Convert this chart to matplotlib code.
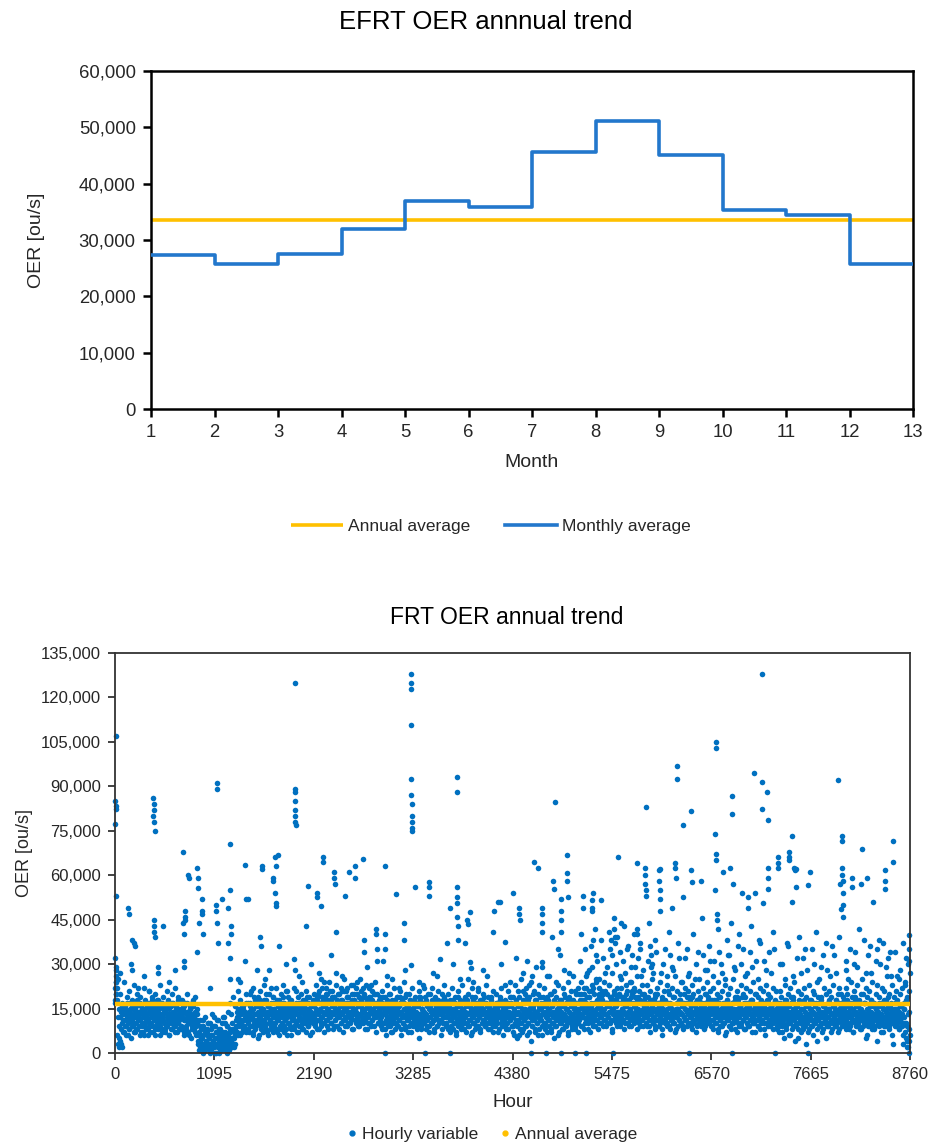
import numpy as np
import matplotlib.pyplot as plt
from matplotlib.lines import Line2D
from matplotlib.ticker import FuncFormatter

plt.rcParams['font.family'] = ['Liberation Sans', 'DejaVu Sans']

# ---- top chart: monthly averages (ou/s) ----
months = [1, 2, 3, 4, 5, 6, 7, 8, 9, 10, 11, 12, 13]
monthly_avg = [27400, 25700, 27600, 31900, 37000, 35800, 45700, 51100, 45000, 35400, 34500, 25700, 25700]
efrt_annual_avg = 33600

# ---- bottom chart: hourly values, thousands of ou/s, read month by month ----
band_m01 = [22, 28, 18, 12, 25, 9, 4, 14, 3, 2, 11, 7, 15, 9, 13, 6, 17, 10, 8, 14, 12, 5, 16, 11, 9, 13, 7, 15, 10, 18,
            8, 12, 14, 6, 11, 16, 9, 13, 7, 10, 15, 12, 8, 17, 11, 6, 14, 9, 13, 10, 16, 7, 12, 15, 8, 11, 14, 9, 18, 10,
            6, 13, 16, 8, 12, 11, 15, 7, 14, 9, 17, 10, 13, 6, 12, 16, 8, 11, 14, 9, 13, 7, 15, 10, 12, 18, 8, 11, 14, 9]
band_m02 = [12, 8, 15, 6, 11, 17, 9, 13, 7, 14, 10, 16, 5, 12, 9, 18, 8, 11, 14, 6, 13, 10,
            4, 7, 2, 9, 5, 3, 11, 6, 1, 8, 4, 2, 7, 10, 3, 5, 1, 6, 9, 2, 4, 12, 3, 7, 0, 5, 2, 8, 4, 1,
            6, 3, 10, 2, 5, 7, 1, 4, 9, 3, 6, 2, 8, 4, 13, 5, 3, 7, 2, 6,
            9, 12, 7, 15, 10, 13, 6, 11, 16, 8, 14, 9, 12, 17, 7, 11]
band_m03 = [10, 14, 7, 17, 12, 9, 15, 6, 11, 19, 8, 13, 16, 10, 5, 14, 12, 18, 9, 11, 7, 15, 13, 10, 20, 8, 12, 16, 6, 14,
            11, 9, 17, 13, 7, 10, 15, 12, 8, 18, 11, 14, 6, 13, 9, 16, 10, 12, 19, 7, 14, 11, 8, 15, 13, 10, 17, 9, 12, 6,
            14, 16, 11, 8, 13, 21, 10, 15, 7, 12, 9, 17, 14, 11, 8, 16, 13, 10, 18, 7, 12, 15, 9, 14, 11, 6, 13, 17, 10, 12]
band_m04 = [13, 9, 18, 15, 11, 20, 8, 14, 17, 10, 12, 22, 16, 7, 13, 19, 11, 15, 9, 18, 14, 12, 21, 10, 16, 8, 13, 19, 15, 11,
            17, 9, 14, 20, 12, 16, 10, 18, 13, 7, 15, 21, 11, 17, 14, 9, 19, 12, 16, 10, 13, 18, 8, 15, 20, 11, 14, 17, 12, 9,
            16, 19, 13, 10, 18, 15, 11, 22, 14, 8, 17, 12, 16, 10, 19, 13, 15, 9, 18, 11, 14, 20, 12, 16, 7, 13, 17, 10, 15, 19]
band_m05 = [11, 16, 8, 13, 19, 10, 14, 6, 17, 12, 9, 15, 20, 11, 7, 14, 18, 10, 13, 16, 8, 12, 19, 15, 9, 11, 17, 14, 6, 13,
            18, 10, 15, 12, 8, 20, 14, 11, 16, 9, 13, 17, 7, 12, 15, 10, 18, 14, 9, 11, 16, 13, 5, 19, 12, 8, 15, 17, 10, 14,
            11, 13, 18, 9, 16, 12, 7, 15, 20, 10, 14, 11, 17, 8, 13, 16, 12, 9, 18, 15, 11, 14, 6, 13, 17, 10, 19, 12, 15, 9]
band_m06 = [12, 9, 16, 14, 7, 18, 11, 13, 15, 8, 10, 17, 12, 6, 14, 19, 9, 13, 16, 11, 8, 15, 12, 18, 10, 14, 7, 13, 17, 9,
            11, 16, 14, 6, 12, 19, 10, 15, 13, 8, 17, 11, 14, 9, 12, 16, 7, 13, 18, 10, 15, 11, 9, 14, 17, 12, 8, 16, 13, 10,
            19, 11, 14, 7, 15, 12, 9, 17, 13, 10, 16, 8, 12, 18, 14, 11, 6, 15, 13, 9, 17, 10, 12, 16, 8, 14, 11, 19, 13, 9]
band_m07 = [9, 14, 6, 17, 11, 13, 5, 16, 10, 19, 8, 12, 15, 7, 21, 11, 14, 9, 13, 6, 18, 10, 15, 12, 4, 16, 9, 13, 20, 11,
            7, 14, 17, 10, 12, 8, 15, 19, 11, 6, 13, 16, 9, 14, 10, 18, 12, 7, 15, 11, 13, 20, 8, 16, 10, 14, 5, 12, 17, 9,
            13, 11, 15, 7, 18, 10, 14, 12, 8, 16, 13, 19, 9, 11, 15, 6, 14, 12, 17, 10, 13, 8, 16, 11, 21, 9, 14, 12, 7, 15]
band_m08 = [13, 17, 9, 20, 12, 15, 8, 18, 14, 11, 22, 16, 10, 13, 19, 7, 15, 12, 21, 9, 17, 14, 11, 24, 13, 16, 8, 19, 12, 15,
            10, 18, 14, 20, 11, 13, 17, 9, 16, 12, 23, 14, 10, 18, 15, 7, 13, 20, 11, 16, 12, 19, 9, 14, 17, 13, 10, 22, 15, 11,
            18, 8, 16, 13, 20, 12, 14, 10, 17, 15, 9, 19, 13, 11, 16, 21, 12, 14, 8, 18, 15, 10, 13, 17, 11, 20, 14, 9, 16, 12]
band_m09 = [12, 16, 9, 14, 19, 11, 7, 15, 13, 18, 10, 12, 17, 8, 14, 11, 20, 13, 9, 16, 12, 15, 6, 18, 11, 14, 10, 17, 13, 9,
            15, 21, 12, 8, 16, 11, 14, 19, 10, 13, 7, 15, 12, 17, 9, 14, 11, 18, 13, 10, 16, 8, 12, 20, 15, 11, 14, 9, 17, 13,
            10, 15, 12, 19, 8, 14, 11, 16, 13, 7, 18, 12, 15, 10, 14, 9, 17, 11, 13, 16, 8, 12, 20, 14, 10, 15, 11, 13, 18, 9]
band_m10 = [11, 15, 8, 18, 13, 10, 16, 12, 7, 14, 19, 11, 9, 15, 13, 17, 10, 12, 6, 16, 14, 11, 20, 9, 13, 15, 8, 12, 17, 10,
            14, 11, 18, 13, 7, 15, 12, 9, 16, 14, 10, 19, 11, 13, 8, 15, 12, 17, 10, 14, 9, 16, 13, 11, 18, 7, 12, 15, 10, 14,
            20, 11, 13, 9, 16, 12, 8, 15, 11, 17, 13, 10, 14, 6, 12, 18, 15, 9, 13, 11, 16, 10, 14, 12, 8, 17, 13, 11, 15, 9]
band_m11 = [10, 14, 7, 17, 12, 9, 15, 11, 5, 13, 18, 8, 12, 16, 10, 14, 6, 11, 19, 13, 9, 15, 12, 4, 16, 10, 14, 8, 13, 17,
            11, 7, 15, 12, 9, 18, 10, 14, 3, 13, 11, 16, 8, 12, 15, 9, 14, 11, 6, 17, 13, 10, 12, 8, 15, 11, 14, 9, 19, 12,
            7, 13, 16, 10, 11, 5, 14, 12, 9, 15, 17, 10, 13, 8, 11, 16, 12, 14, 9, 18, 10, 13, 7, 15, 11, 12, 20, 9, 14, 10]
band_m12 = [13, 9, 16, 11, 18, 14, 8, 12, 15, 10, 17, 13, 7, 14, 11, 19, 9, 12, 16, 10, 13, 8, 15, 11, 14, 20, 9, 12, 17, 10,
            13, 6, 15, 11, 14, 9, 18, 12, 10, 16, 13, 8, 11, 15, 12, 4, 14, 9, 17, 11, 13, 10, 16, 7, 12, 15, 9, 14, 11, 19,
            13, 8, 12, 16, 10, 14, 3, 11, 15, 9, 13, 17, 10, 12, 8, 14, 11, 16, 9, 13, 6, 15, 12, 10, 18, 4, 9, 2, 14, 6]

# second pass through the dense band (same months, the hours in between)
band2_m01 = [17, 24, 20, 6, 3, 2, 5, 12, 8, 16, 10, 13, 7, 11, 15, 9, 12, 6, 14, 8, 17, 11, 13, 9, 15, 10, 7, 12, 16, 8,
             14, 11, 9, 13, 17, 7, 10, 15, 12, 6, 14, 9, 11, 16, 13, 8, 10, 15, 7, 12, 18, 9, 14, 11, 6, 13, 16, 10, 8, 12,
             15, 9, 17, 11, 7, 13, 10, 14, 8, 16, 12, 9, 11, 15, 6, 13, 10, 17, 8, 12, 14, 9, 11, 16, 7, 13, 10, 15, 8, 12]
band2_m02 = [9, 13, 16, 7, 11, 14, 8, 12, 17, 10, 6, 15, 11, 13, 8, 16, 10, 12, 7, 14, 9, 11,
             3, 6, 1, 4, 8, 2, 5, 9, 3, 7, 1, 4, 6, 2, 10, 5, 3, 8, 1, 6, 4, 2, 9, 5, 7, 3, 11, 2, 6, 4,
             8, 1, 5, 3, 7, 12, 4, 2, 6, 9, 3, 5, 1, 7, 4, 10, 2, 8, 5, 3,
             8, 11, 14, 6, 12, 9, 15, 10, 13, 7, 16, 11, 9, 14, 12, 8]
band2_m03 = [13, 8, 11, 16, 9, 14, 12, 7, 15, 10, 13, 17, 9, 11, 14, 6, 12, 16, 10, 8, 13, 15, 11, 18, 9, 12, 14, 7, 16, 10,
             13, 11, 8, 15, 12, 19, 9, 14, 10, 13, 7, 16, 11, 12, 15, 8, 14, 10, 17, 13, 9, 11, 16, 12, 6, 14, 10, 13, 18, 8,
             15, 11, 12, 9, 16, 14, 10, 7, 13, 11, 17, 12, 15, 9, 10, 14, 8, 16, 12, 11, 13, 19, 9, 15, 10, 12, 14, 7, 11, 16]
band2_m04 = [16, 12, 10, 14, 19, 8, 13, 17, 11, 15, 9, 12, 18, 14, 10, 16, 13, 20, 11, 8, 15, 12, 17, 14, 10, 19, 13, 9, 16, 11,
             14, 18, 12, 15, 8, 13, 17, 10, 21, 14, 11, 16, 12, 9, 15, 19, 13, 10, 17, 14, 11, 12, 16, 8, 18, 13, 15, 10, 14, 20,
             11, 17, 9, 13, 16, 12, 14, 10, 19, 15, 11, 13, 8, 17, 12, 16, 14, 10, 18, 11, 15, 13, 9, 20, 12, 14, 16, 10, 13, 17]
band2_m05 = [14, 9, 12, 17, 10, 15, 13, 8, 11, 18, 14, 10, 16, 12, 9, 13, 7, 15, 11, 17, 12, 14, 10, 9, 16, 13, 11, 19, 8, 14,
             12, 10, 15, 17, 9, 13, 11, 16, 7, 12, 14, 18, 10, 13, 15, 9, 11, 17, 12, 14, 8, 16, 10, 13, 19, 11, 9, 15, 12, 14,
             10, 17, 8, 13, 11, 16, 15, 9, 12, 14, 10, 18, 13, 7, 11, 15, 12, 17, 9, 14, 10, 13, 16, 11, 8, 15, 12, 14, 18, 10]
band2_m06 = [10, 15, 13, 8, 16, 11, 14, 9, 12, 17, 10, 13, 15, 7, 11, 16, 14, 10, 12, 18, 9, 13, 15, 11, 8, 14, 12, 16, 10, 17,
             13, 9, 11, 15, 14, 7, 12, 18, 10, 13, 16, 9, 11, 14, 12, 17, 8, 15, 10, 13, 11, 19, 14, 9, 12, 16, 10, 13, 15, 8,
             11, 17, 12, 14, 9, 10, 16, 13, 11, 15, 7, 12, 14, 18, 10, 13, 9, 16, 11, 12, 15, 8, 14, 10, 17, 13, 11, 12, 16, 9]
band2_m07 = [12, 7, 15, 10, 13, 18, 9, 11, 14, 6, 16, 12, 10, 13, 8, 17, 11, 15, 9, 12, 19, 10, 14, 7, 13, 16, 11, 9, 15, 12,
             18, 8, 14, 10, 13, 6, 16, 11, 12, 15, 9, 17, 13, 10, 8, 14, 12, 19, 11, 9, 15, 13, 7, 16, 10, 12, 14, 18, 9, 11,
             13, 15, 6, 12, 17, 10, 14, 8, 11, 16, 13, 9, 12, 15, 10, 18, 7, 14, 11, 13, 16, 9, 12, 10, 15, 8, 17, 11, 13, 10]
band2_m08 = [15, 11, 18, 13, 9, 16, 12, 20, 10, 14, 17, 12, 8, 15, 19, 11, 13, 16, 10, 22, 14, 12, 9, 17, 15, 11, 13, 20, 10, 16,
             12, 18, 14, 9, 15, 11, 21, 13, 17, 10, 12, 16, 14, 19, 11, 8, 15, 13, 18, 12, 10, 16, 14, 11, 20, 13, 9, 17, 12, 15,
             11, 19, 14, 10, 16, 13, 12, 18, 9, 15, 11, 14, 21, 12, 17, 10, 13, 16, 15, 11, 19, 12, 14, 9, 17, 13, 11, 15, 18, 12]
band2_m09 = [14, 10, 17, 12, 15, 9, 13, 18, 11, 14, 16, 10, 12, 19, 9, 15, 13, 11, 17, 14, 10, 12, 16, 8, 15, 13, 18, 11, 12, 14,
             10, 17, 9, 13, 16, 12, 15, 11, 19, 10, 14, 13, 8, 17, 12, 15, 11, 14, 18, 10, 13, 16, 9, 12, 15, 11, 17, 14, 10, 13,
             19, 12, 9, 16, 14, 11, 13, 10, 17, 15, 12, 9, 14, 18, 11, 13, 16, 10, 12, 15, 14, 9, 17, 11, 13, 19, 12, 10, 16, 14]
band2_m10 = [13, 9, 16, 11, 14, 12, 18, 10, 15, 8, 13, 17, 11, 14, 9, 12, 16, 10, 15, 13, 7, 18, 12, 11, 14, 16, 9, 13, 10, 17,
             12, 15, 8, 14, 11, 19, 13, 10, 12, 16, 9, 15, 14, 11, 17, 13, 8, 12, 10, 16, 14, 9, 15, 11, 13, 18, 12, 10, 14, 7,
             16, 11, 13, 15, 9, 12, 17, 14, 10, 11, 13, 16, 8, 15, 12, 14, 10, 18, 11, 13, 9, 16, 12, 15, 10, 14, 11, 17, 13, 8]
band2_m11 = [12, 16, 9, 13, 11, 15, 7, 14, 10, 17, 12, 9, 15, 13, 11, 6, 16, 10, 14, 12, 8, 18, 13, 11, 15, 9, 12, 16, 5, 14,
             10, 13, 17, 11, 8, 15, 12, 9, 14, 16, 10, 13, 7, 12, 18, 11, 15, 9, 14, 10, 13, 16, 12, 4, 11, 15, 9, 17, 13, 10,
             14, 12, 8, 16, 11, 13, 15, 9, 12, 10, 18, 14, 11, 7, 13, 16, 10, 12, 15, 9, 14, 11, 17, 13, 8, 12, 16, 10, 14, 11]
band2_m12 = [11, 15, 12, 8, 14, 17, 10, 13, 9, 16, 12, 11, 15, 7, 13, 18, 10, 14, 12, 9, 16, 11, 13, 15, 8, 12, 14, 10, 17, 11,
             5, 13, 15, 9, 12, 16, 10, 14, 11, 8, 13, 17, 12, 9, 15, 11, 14, 10, 16, 12, 7, 13, 11, 15, 9, 18, 12, 14, 10, 13,
             16, 11, 9, 15, 12, 6, 14, 10, 13, 17, 11, 12, 15, 9, 14, 8, 16, 11, 13, 10, 3, 12, 15, 7, 5, 10, 2, 13, 4, 8]

# upper edge of the band, around and above the annual average
upper_m01 = [18, 22, 15, 20, 17, 24, 16, 19, 21, 15, 18, 23, 16, 20, 17, 19, 15, 22, 18, 16,
             21, 17, 19, 15, 20, 18, 16, 23, 17, 19, 15, 21, 18, 16, 20, 17, 22, 15, 19, 18]
upper_m02 = [18, 16, 20, 15, 17, 19, 15, 11, 9, 12, 8, 10, 13, 9, 11, 7, 12, 10, 14, 17, 19, 16, 21, 18, 15, 20]
upper_m03 = [17, 20, 15, 22, 18, 16, 19, 21, 15, 17, 23, 18, 16, 20, 15, 19, 17, 22, 16, 18,
             20, 15, 17, 21, 19, 16, 18, 15, 22, 17, 19, 16, 20, 18, 15, 21, 17, 19, 16, 18]
upper_m04 = [20, 23, 18, 21, 25, 19, 17, 22, 20, 24, 18, 21, 19, 23, 17, 20, 22, 18, 25, 21,
             19, 17, 23, 20, 18, 22, 24, 19, 21, 17, 20, 23, 18, 22, 19, 21, 17, 24, 20, 18]
upper_m05 = [18, 21, 16, 19, 23, 17, 20, 15, 22, 18, 19, 16, 21, 17, 24, 19, 15, 20, 18, 22,
             16, 19, 17, 21, 18, 15, 23, 19, 17, 20, 16, 22, 18, 19, 15, 21, 17, 20, 18, 16]
upper_m06 = [17, 20, 15, 22, 18, 19, 16, 21, 17, 23, 15, 19, 18, 20, 16, 22, 17, 19, 15, 21,
             18, 16, 20, 17, 23, 19, 15, 18, 21, 16, 20, 17, 19, 22, 15, 18, 16, 21, 19, 17]
upper_m07 = [19, 23, 17, 21, 16, 25, 18, 20, 22, 17, 19, 24, 16, 21, 18, 20, 23, 17, 19, 22,
             16, 18, 26, 20, 17, 21, 19, 23, 16, 18, 22, 20, 17, 24, 19, 21, 18, 16, 20, 22]
upper_m08 = [20, 24, 18, 22, 26, 19, 21, 17, 23, 20, 25, 18, 22, 19, 21, 24, 17, 20, 23, 19,
             27, 21, 18, 22, 20, 25, 19, 17, 23, 21, 18, 24, 20, 22, 19, 26, 21, 18, 23, 20]
upper_m09 = [19, 23, 17, 21, 25, 18, 20, 22, 17, 24, 19, 21, 18, 23, 20, 17, 22, 19, 26, 21,
             18, 20, 24, 17, 22, 19, 21, 18, 23, 20, 25, 18, 21, 19, 17, 22, 20, 24, 18, 21]
upper_m10 = [18, 22, 17, 20, 24, 19, 21, 16, 23, 18, 20, 22, 17, 25, 19, 21, 18, 16, 23, 20,
             19, 22, 17, 21, 18, 24, 20, 16, 19, 22, 18, 21, 17, 23, 20, 19, 16, 22, 18, 21]
upper_m11 = [17, 21, 19, 16, 23, 18, 20, 22, 17, 19, 24, 16, 21, 18, 20, 17, 22, 19, 16, 23,
             18, 21, 20, 17, 19, 25, 18, 16, 22, 20, 17, 21, 19, 23, 16, 18, 20, 22, 17, 19]
upper_m12 = [18, 22, 20, 17, 24, 19, 21, 16, 23, 18, 20, 25, 17, 22, 19, 21, 18, 24, 16, 20,
             23, 19, 17, 22, 21, 18, 26, 20, 17, 23, 19, 21, 18, 25, 20, 22, 17, 24, 19, 21]

# peaks and sparse points (hour, thousands of ou/s)
peak_hours = [8, 5, 6, 7, 4, 8, 5, 6, 7, 8, 9, 10, 145, 150, 190, 205, 215, 180, 185,
              420, 425, 430, 422, 428, 440, 430, 432, 435, 438, 530, 470, 475,
              750, 805, 810, 905, 910, 915, 960, 955, 962, 925, 965, 770, 772, 775, 750, 755, 760, 765, 900,
              1120, 1122, 1110, 1115, 1125, 1130, 1180, 1250, 1270, 1265, 1275, 1280, 1245, 1270, 1272,
              1433, 1440, 1470, 1435, 1600, 1605, 1620, 1625, 1740, 1745, 1765, 1770, 1800, 1760, 1770, 1772, 1810,
              1983, 1980, 1982, 1985, 1983, 1987, 1984, 1990, 1975, 1978,
              2100, 2130, 2222, 2225, 2267, 2294, 2297, 2415, 2418, 2420, 2430, 2535, 2580, 2645, 2648, 2735, 2740,
              2742, 2878, 2880, 2885, 2890, 2976, 2980, 2970, 3097, 3185, 3188,
              3260, 3260, 3262, 3265, 3262, 3265, 3268, 3272, 3268, 3270, 3272, 3265, 3306, 3460, 3462, 3465, 3582, 3655,
              3765, 3767, 3770, 3768, 3772, 3770, 3775, 3778, 3692, 3857, 3880, 3885, 3912, 3915, 3920, 3890,
              4166, 4180, 4222, 4243, 4298, 4380, 4452, 4455, 4460, 4536, 4620, 4664, 4702, 4705, 4700, 4708, 4703,
              4812, 4830, 4832, 4843, 4910, 4912, 4915, 4918, 4980, 4982, 4985, 4988,
              5160, 5162, 5253, 5255, 5258, 5265, 5270, 5356, 5260, 5500, 5544, 5500, 5505, 5510, 5580, 5750, 5752,
              5755, 5840, 5842, 5845, 5848, 5850, 5849, 5900, 5905, 5910,
              5995, 5997, 6000, 6002, 6005, 6010, 6134, 6171, 6175, 6178, 6190, 6192, 6260, 6262, 6350, 6352, 6355,
              6458, 6465, 6612, 6620, 6622, 6625, 6627, 6615, 6630, 6632, 6700, 6780, 6790, 6800, 6795, 6805, 6905,
              6978, 6975, 7053, 7045, 7126, 7181, 7126, 7128, 7192, 7140, 7196, 7198, 7200,
              7306, 7308, 7310, 7428, 7430, 7432, 7457, 7480, 7490, 7495, 7500, 7505, 7460, 7633, 7660,
              7964, 8008, 8010, 8012, 8015, 8018, 7990, 7995, 8020, 8022, 8025, 8118, 8120, 8228, 8215, 8283, 8355,
              8485, 8487, 8490, 8575, 8578, 8750, 8752, 8754, 8756]
peak_vals = [107, 85, 83.5, 82.5, 77.4, 53, 32, 29, 26, 24, 22, 20, 49, 47, 38, 37, 36, 30, 28,
             86, 84, 82, 80, 78, 75, 45, 43, 41, 39, 43, 29, 27,
             68, 60, 59, 62.6, 59, 55.6, 52, 48, 47, 44, 40, 48, 46, 45, 44, 40, 31, 29, 34,
             91, 89, 50, 48, 44, 37, 52, 49, 70.7, 55, 43, 40, 37, 32, 25,
             63.6, 52, 52, 31, 39, 36, 63, 62, 59, 58, 66, 63, 66.7, 54, 50.5, 49.5, 36,
             125, 89, 88, 85, 82, 80, 78, 77, 31.6, 28,
             43, 56.5, 54, 52.5, 49.5, 66, 64.6, 61, 59, 57, 40.7, 53, 61, 63, 59, 65.6, 38,
             34, 42, 40, 35, 31, 63, 40, 35, 53.5, 43.8, 38,
             128, 125, 123, 110.8, 92.6, 87, 84, 80, 78, 76, 75, 29.6, 56, 57.6, 56, 53, 31.6, 37,
             93, 88, 56, 52.5, 50.5, 46, 42.8, 38, 49, 37, 44.8, 43.7, 47.5, 30.6, 28.6, 25,
             40.7, 48, 51, 51, 37.4, 54, 49, 47, 45, 31, 64.6, 62.6, 47, 44, 41, 49, 30.6,
             39, 58, 55.5, 84.8, 52, 48, 45, 41, 66.7, 60.6, 58, 52.5,
             53, 49, 51.5, 49, 48, 54, 38, 51.5, 29, 45.5, 66, 42, 39, 37, 44, 64, 42,
             40, 62.6, 60, 57, 55, 53, 83, 36, 33, 29,
             61.6, 58, 55, 52, 48, 62, 49, 64, 62.6, 59, 97, 92.6, 76.8, 52.5, 81.8, 61.6, 57.6,
             58, 45.5, 74, 105, 103, 67, 65, 55, 47, 44.8, 61, 62.6, 43.8, 86.9, 80.8, 57, 54,
             52.5, 49, 54, 94.6, 91.6, 88, 128, 82.5, 78.5, 50.5, 62.6, 59, 55.5,
             66, 64, 62.6, 68, 66, 65, 73.4, 62.6, 62, 61.6, 62, 56, 51, 56.6, 61,
             92.3, 73.4, 71.4, 62.6, 60, 58, 57, 48.5, 54, 50, 45.8, 59, 56, 68.7, 57, 59, 51,
             61.6, 58, 55.5, 71.4, 64.6, 39.7, 35, 31, 27]

mid_hours = [60, 250, 320, 380, 600, 660, 1050, 1380, 1500, 1650, 1700, 1850, 1900,
             2030, 2160, 2300, 2440, 2560, 2700, 2820, 3000, 3130, 3350, 3500, 3620, 3800, 4000, 4100, 4250,
             4350, 4500, 4560, 4640, 4760, 4860, 4900, 4950, 5050, 5120, 5180, 5200, 5300, 5330, 5380, 5420,
             5450, 5470, 5520, 5560, 5600, 5620, 5650, 5680, 5700, 5730, 5790, 5800, 5870, 5930, 5960, 6040,
             6080, 6110, 6150, 6220, 6240, 6300, 6330, 6400, 6430, 6480, 6520, 6560, 6590, 6650, 6680, 6720,
             6750, 6830, 6860, 6900, 6940, 7000, 7020, 7080, 7100, 7150, 7230, 7260, 7350, 7380, 7400, 7520,
             7560, 7600, 7700, 7740, 7800, 7850, 7900, 7940, 8050, 8080, 8150, 8180, 8250, 8300, 8330, 8400,
             8430, 8460, 8520, 8550, 8600, 8650, 8700,
             1350, 1560, 1720, 1880, 2060, 2250, 2380, 2500, 2620, 2780, 2950, 3050, 3200, 3400, 3550, 3720,
             3950, 4050, 4300, 4420, 4600, 4700, 4880, 5000,
             5130, 5220, 5240, 5290, 5310, 5350, 5400, 5440, 5480, 5530, 5570, 5610, 5640, 5690, 5720, 5760,
             5780, 5820, 5880, 5920, 5950, 6020, 6060, 6100, 6140, 6200, 6280, 6310, 6370, 6420, 6500, 6540,
             6600, 6640, 6690, 6740, 6770, 6820, 6880, 6920, 6960, 7010, 7060, 7110, 7170, 7210, 7250, 7330,
             7420, 7470, 7540, 7580, 7620, 7680, 7720, 7780, 7830, 7880, 7920, 7980, 8060, 8100, 8140, 8200,
             8270, 8320, 8380, 8420, 8500, 8540, 8620, 8680, 8720, 8740]
mid_vals = [27, 22, 26, 21, 24, 28, 22, 24, 21, 25, 28, 23, 21,
            26, 30, 24, 27, 22, 25, 23, 26, 22, 24, 27, 23, 25, 22, 26, 30,
            24, 27, 23, 29, 26, 24, 33, 28, 26, 31, 35, 27, 33, 25, 32, 29,
            35, 38, 30, 34, 31, 27, 36, 24, 33, 29, 35, 26, 31, 27, 34, 30,
            26, 33, 28, 32, 24, 35, 27, 30, 25, 33, 28, 31, 26, 34, 30, 25,
            33, 28, 36, 30, 26, 34, 29, 25, 38, 31, 27, 35, 30, 25, 37, 32,
            27, 35, 30, 24, 33, 28, 36, 27, 31, 25, 34, 29, 38, 33, 27, 35,
            30, 37, 32, 26, 34, 28, 23,
            25, 28, 22, 30, 24, 27, 33, 26, 23, 29, 31, 25, 28, 22, 26, 30,
            24, 28, 23, 32, 26, 29, 35, 27,
            40, 28, 36, 42, 31, 38, 27, 41, 33, 39, 26, 43, 35, 29, 40, 32,
            37, 28, 44, 30, 38, 27, 35, 41, 29, 37, 32, 26, 40, 34, 28, 36,
            31, 42, 27, 38, 33, 29, 40, 35, 27, 43, 31, 37, 28, 34, 41, 30,
            36, 26, 39, 32, 28, 35, 41, 29, 37, 26, 33, 39, 28, 35, 30, 42,
            27, 36, 31, 38, 29, 34, 26, 37, 32, 30]

zero_hours = [970, 1050, 1100, 1150, 1234, 1918, 2970, 3412, 3692, 4581, 4745, 4909, 5070, 5191,
              5488, 6322, 6802, 7277, 7637, 8752]

frt_annual_avg = 16500

blue = '#0070C0'
line_blue = '#2277CC'
gold = '#FFC000'
txt = '#262626'

fig = plt.figure(figsize=(9.3, 11.44), dpi=100)

# ---------------- top chart ----------------
ax1 = fig.add_axes([151 / 930, 1 - 409 / 1144, (913 - 151) / 930, (409 - 71) / 1144])
ax1.plot([months[0], months[-1]], [efrt_annual_avg, efrt_annual_avg], color=gold, lw=2.6,
         solid_capstyle='butt', label='Annual average', zorder=2)
ax1.step(months, monthly_avg, where='post', color=line_blue, lw=2.6, label='Monthly average', zorder=3)
ax1.set_xlim(1, 13)
ax1.set_ylim(0, 60000)
ax1.set_xticks(months)
ax1.set_yticks(np.arange(0, 60001, 10000))
ax1.yaxis.set_major_formatter(FuncFormatter(lambda v, p: f'{int(v):,}'))
for s in ax1.spines.values():
    s.set_linewidth(1.8)
    s.set_color('black')
ax1.tick_params(direction='out', length=6, width=1.8, labelsize=13.3, colors='black', labelcolor=txt, pad=5)
ax1.set_xlabel('Month', fontsize=14, color=txt, labelpad=9)
ax1.set_ylabel('OER [ou/s]', fontsize=14, color=txt, labelpad=24)
fig.text(486 / 930, 1 - 22 / 1144, 'EFRT OER annnual trend', ha='center', va='center', fontsize=18.5, color='black')
fig.legend(handles=ax1.get_lines(), loc='center', bbox_to_anchor=(491 / 930, 1 - 526 / 1144), ncol=2,
           frameon=False, fontsize=12.5, handlelength=3.0, handletextpad=0.3, columnspacing=2.0,
           labelcolor=txt)

# ---------------- bottom chart ----------------
ax2 = fig.add_axes([115 / 930, 1 - 1053 / 1144, (910 - 115) / 930, (1053 - 653) / 1144])
hours, vals = [], []
band_sets = [
    ([band_m01, band_m02, band_m03, band_m04, band_m05, band_m06,
      band_m07, band_m08, band_m09, band_m10, band_m11, band_m12], 0.5),
    ([band2_m01, band2_m02, band2_m03, band2_m04, band2_m05, band2_m06,
      band2_m07, band2_m08, band2_m09, band2_m10, band2_m11, band2_m12], 0.0),
    ([upper_m01, upper_m02, upper_m03, upper_m04, upper_m05, upper_m06,
      upper_m07, upper_m08, upper_m09, upper_m10, upper_m11, upper_m12], 0.25),
]
for bands, off in band_sets:
    for m, b in enumerate(bands):
        for i, v in enumerate(b):
            hours.append(730 * m + (i + off) * 730 / len(b))
            vals.append(v * 1000)
hours += peak_hours + mid_hours + zero_hours
vals += [v * 1000 for v in peak_vals] + [v * 1000 for v in mid_vals] + [0] * len(zero_hours)

ax2.scatter(hours, vals, s=16, color=blue, linewidths=0, zorder=2, clip_on=False)
ax2.plot([0, 8760], [frt_annual_avg, frt_annual_avg], color=gold, lw=3.2, solid_capstyle='butt', zorder=3)
ax2.set_xlim(0, 8760)
ax2.set_ylim(0, 135000)
ax2.set_xticks(np.arange(0, 8761, 1095))
ax2.set_yticks(np.arange(0, 135001, 15000))
ax2.yaxis.set_major_formatter(FuncFormatter(lambda v, p: f'{int(v):,}'))
for s in ax2.spines.values():
    s.set_linewidth(1.3)
    s.set_color('#333333')
ax2.tick_params(direction='out', length=5, width=1.3, labelsize=12, colors='#333333', labelcolor=txt, pad=5)
ax2.set_xlabel('Hour', fontsize=13.5, color=txt, labelpad=9)
ax2.set_ylabel('OER [ou/s]', fontsize=13, color=txt, labelpad=6)
fig.text(507 / 930, 1 - 617 / 1144, 'FRT OER annual trend', ha='center', va='center', fontsize=16.5, color='black')
handles = [Line2D([], [], ls='none', marker='o', ms=3.5, color=blue, label='Hourly variable'),
           Line2D([], [], ls='none', marker='o', ms=3.5, color=gold, label='Annual average')]
fig.legend(handles=handles, loc='center', bbox_to_anchor=(492 / 930, 1 - 1134 / 1144), ncol=2,
           frameon=False, fontsize=12.5, handlelength=0.6, handletextpad=0.3, columnspacing=1.2,
           labelcolor=txt, borderpad=0)

fig.savefig('out.png', dpi=100)
